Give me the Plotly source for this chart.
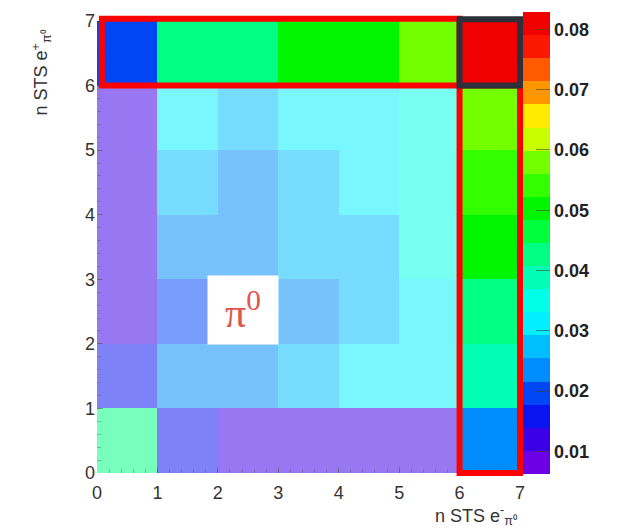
import plotly.graph_objects as go

# Bin edges of the two multiplicity axes (number of STS hits per e+ / e- from pi0)
n_bins = 7
edges = list(range(n_bins + 1))
centers = [e + 0.5 for e in edges[:-1]]
tick_vals = list(range(n_bins + 1))

# Fraction per bin, rows = n STS e+ (0..6), columns = n STS e- (0..6)
frac_row0 = [0.0425, 0.0158, 0.0119, 0.0119, 0.0119, 0.0119, 0.0234]
frac_row1 = [0.0158, 0.0234, 0.0234, 0.0272, 0.0311, 0.0311, 0.0387]
frac_row2 = [0.0119, 0.0196, 0.0234, 0.0234, 0.0272, 0.0311, 0.0440]
frac_row3 = [0.0119, 0.0234, 0.0234, 0.0272, 0.0272, 0.0349, 0.0502]
frac_row4 = [0.0119, 0.0272, 0.0234, 0.0272, 0.0311, 0.0349, 0.0540]
frac_row5 = [0.0119, 0.0311, 0.0272, 0.0311, 0.0311, 0.0349, 0.0579]
frac_row6 = [0.0196, 0.0423, 0.0427, 0.0502, 0.0505, 0.0575, 0.0826]
frac = [frac_row0, frac_row1, frac_row2, frac_row3, frac_row4, frac_row5, frac_row6]

# Colour scale range and contour bands
z_min, z_max = 0.0062, 0.0828
cbar_ticks = [0.01, 0.02, 0.03, 0.04, 0.05, 0.06, 0.07, 0.08]
band_colors = [
    "rgb(110,0,230)", "rgb(60,0,230)", "rgb(10,20,240)", "rgb(0,70,245)",
    "rgb(0,140,250)", "rgb(0,190,255)", "rgb(0,240,255)", "rgb(0,255,230)",
    "rgb(0,255,180)", "rgb(0,255,130)", "rgb(0,255,60)", "rgb(0,245,0)",
    "rgb(50,255,0)", "rgb(115,255,0)", "rgb(200,255,0)", "rgb(255,235,0)",
    "rgb(255,150,0)", "rgb(255,90,0)", "rgb(250,25,0)", "rgb(240,0,0)",
]
n_bands = len(band_colors)
colorscale = []
for i, c in enumerate(band_colors):
    colorscale.append([i / n_bands, c])
    colorscale.append([(i + 1) / n_bands, c])

last = n_bins - 1
# inner block (both < 6 hits) shown faded, the 6-hit row/column at full strength
z_inner = [[v if (r < last and c < last) else None for c, v in enumerate(row)]
           for r, row in enumerate(frac)]
z_outer = [[v if (r == last or c == last) else None for c, v in enumerate(row)]
           for r, row in enumerate(frac)]

fig = go.Figure()
fig.add_trace(go.Heatmap(x=centers, y=centers, z=z_inner, coloraxis="coloraxis",
                         opacity=0.53, hoverongaps=False))
fig.add_trace(go.Heatmap(x=centers, y=centers, z=z_outer, coloraxis="coloraxis",
                         hoverongaps=False))

tick_font = dict(family="Liberation Sans, Arial, sans-serif", size=18, color="#333333")
axis_common = dict(range=[0, n_bins], tickvals=tick_vals, showgrid=False, zeroline=False,
                   showline=False, ticks="inside", ticklen=6, tickcolor="rgba(90,90,90,0.5)",
                   tickfont=tick_font,
                   minor=dict(dtick=0.2, ticks="inside", ticklen=4,
                              tickcolor="rgba(90,90,90,0.4)"))

fig.update_layout(
    width=621, height=529,
    margin=dict(l=97, r=101, t=13, b=56),
    paper_bgcolor="white", plot_bgcolor="white",
    xaxis=dict(**axis_common, ticklabelstandoff=7),
    yaxis=dict(**axis_common, ticklabelstandoff=1),
    coloraxis=dict(
        colorscale=colorscale, cmin=z_min, cmax=z_max,
        colorbar=dict(
            thickness=27, thicknessmode="pixels", len=462, lenmode="pixels",
            x=1.007, xanchor="left", xpad=0, y=1.019, yanchor="top", ypad=0,
            outlinewidth=0, tickvals=cbar_ticks,
            ticktext=[f"{t:.2f}" for t in cbar_ticks],
            ticks="inside", ticklen=14, tickwidth=1, tickcolor="rgba(60,70,40,0.6)",
            tickfont=dict(family="Liberation Sans, Arial, sans-serif", size=18,
                          color="#222222", weight="bold"),
        ),
    ),
    showlegend=False,
)


def px(v):
    return v / n_bins


# highlight frames: 6-hit row, 6-hit column and their common bin
red = "rgb(255,0,0)"
fig.add_shape(type="rect", xref="paper", yref="paper",
              x0=px(0.08), x1=px(last), y0=px(last), y1=1.005,
              line=dict(color=red, width=6))
fig.add_shape(type="rect", xref="paper", yref="paper",
              x0=px(last), x1=px(n_bins), y0=0, y1=px(last),
              line=dict(color=red, width=6))
fig.add_shape(type="rect", xref="paper", yref="paper",
              x0=px(last), x1=px(n_bins), y0=px(last), y1=1.004,
              line=dict(color="rgb(45,47,58)", width=6))

# particle label
fig.add_annotation(x=2.42, y=2.53, xref="x", yref="y", text="π<sup>0</sup>",
                   showarrow=False, bgcolor="white", width=68, height=66,
                   font=dict(family="Liberation Serif, Times New Roman, serif",
                             size=42, color="rgb(225,85,80)"))

# axis titles
title_font = dict(family="Liberation Sans, Arial, sans-serif", size=18, color="#333333")
fig.add_annotation(x=1.0, y=-0.062, xref="paper", yref="paper", xanchor="right",
                   yanchor="top", showarrow=False, font=title_font,
                   text="n STS e<sup>-</sup><sub>π⁰</sub>")
fig.add_annotation(x=-0.165, y=0.985, xref="paper", yref="paper", xanchor="left",
                   yanchor="top", showarrow=False, font=title_font, textangle=-90,
                   text="n STS e<sup>+</sup><sub>π⁰</sub>")

fig.write_html("out.html")
